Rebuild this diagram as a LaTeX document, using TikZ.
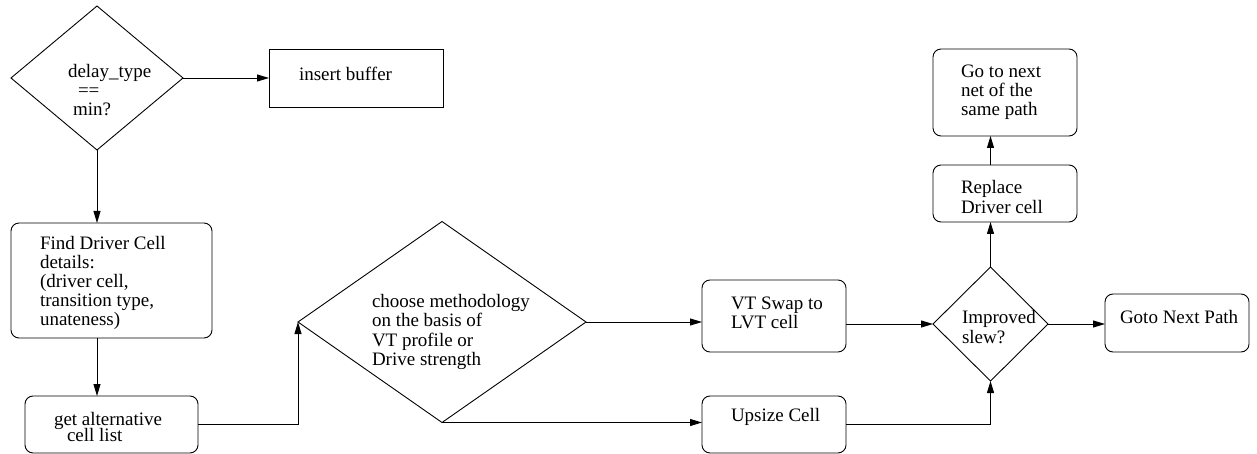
\documentclass[tikz,border=0pt]{standalone}
\usepackage{fontspec}
\setmainfont{Liberation Serif}
\usetikzlibrary{shapes.geometric,arrows.meta}
\begin{document}
\begin{tikzpicture}[x=1pt,y=-1pt,
  every node/.style={inner sep=0pt, outer sep=0pt},
  txt/.style={font=\fontsize{19}{19.2}\selectfont, align=left, anchor=west},
  box/.style={draw, line width=0.9pt, rounded corners=8pt},
  sqbox/.style={draw, line width=0.9pt},
  decision/.style={draw, diamond, line width=0.9pt, inner sep=0pt},
  flow/.style={line width=0.9pt, -{Triangle[length=12pt,width=7pt]}}]
\useasboundingbox (0,0) rectangle (1257,454);

% first test and the buffer branch
\node[decision, minimum width=172pt, minimum height=144pt] (dt) at (97,78) {};
\node[txt] (dtT) at (68,90) {delay\_type\\\hspace*{10pt}==\\\hspace*{5pt}min?};
\node[sqbox, minimum width=174pt, minimum height=58pt] (buf) at (356,78) {};
\node[txt] (bufT) at (299,74) {insert buffer};

% driver cell analysis
\node[box, minimum width=201pt, minimum height=115pt] (fd) at (111.5,280.5) {};
\node[txt] (fdT) at (40,283) {Find Driver Cell\\details:\\(driver cell,\\transition type,\\unateness)};
\node[box, minimum width=173pt, minimum height=57pt] (ga) at (111.5,424.5) {};
\node[txt] (gaT) at (54,427) {get alternative\\[-4pt]\hspace*{13pt}cell list};

% methodology choice
\node[decision, minimum width=288pt, minimum height=201pt] (cm) at (442,322) {};
\node[txt] (cmT) at (372,332) {choose methodology\\on the basis of\\VT profile or\\Drive strength};
\node[box, minimum width=144pt, minimum height=72pt] (vt) at (774,316) {};
\node[txt] (vtT) at (731,313) {VT Swap to\\LVT cell};
\node[box, minimum width=144pt, minimum height=57pt] (up) at (774,424.5) {};
\node[txt] (upT) at (731,417) {Upsize Cell};

% slew check and follow-up
\node[decision, minimum width=115pt, minimum height=114pt] (im) at (990.5,324) {};
\node[txt] (imT) at (962,327) {Improved\\slew?};
\node[box, minimum width=144pt, minimum height=57pt] (rp) at (1005,193.5) {};
\node[txt] (rpT) at (961,197) {Replace\\Driver cell};
\node[box, minimum width=144pt, minimum height=87pt] (gn) at (1005,92.5) {};
\node[txt] (gnT) at (961,92) {Go to next\\net of the\\same path};
\node[box, minimum width=144pt, minimum height=58pt] (gp) at (1177,323) {};
\node[txt] (gpT) at (1120,317) {Goto Next Path};

% connectors
\draw[flow] (dt.east) -- (buf.west);
\draw[flow] (dt.south) -- (dt.south |- fd.north);
\draw[flow] (dt.south |- fd.south) -- (dt.south |- ga.north);
\draw[flow] (ga.east) -| (cm.west);
\draw[flow] (cm.east) -- (cm.east -| vt.west);
\draw[flow] (cm.south) -- (cm.south -| up.west);
\draw[flow] (vt.east |- im.west) -- (im.west);
\draw[flow] (up.east) -| (im.south);
\draw[flow] (im.north) -- (im.north |- rp.south);
\draw[flow] (im.north |- rp.north) -- (im.north |- gn.south);
\draw[flow] (im.east) -- (im.east -| gp.west);
\end{tikzpicture}
\end{document}
